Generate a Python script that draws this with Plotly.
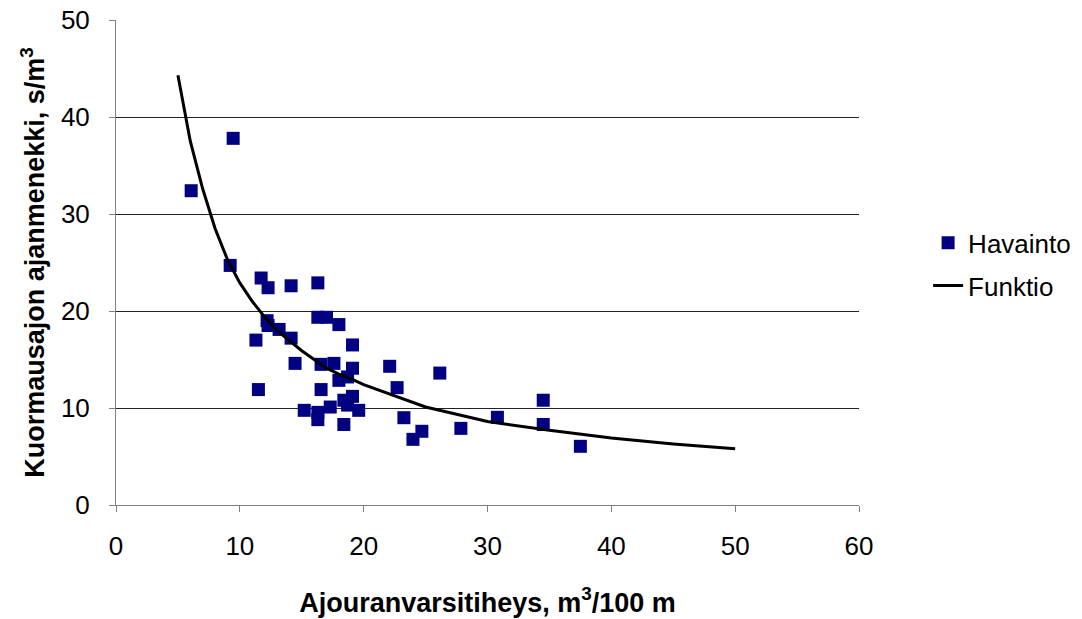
import plotly.graph_objects as go

# Observations (Havainto)
obs_x = [9.46, 6.07, 9.22, 11.72, 12.28, 14.14, 16.3, 12.2, 12.28, 13.17, 14.14, 11.3,
         16.3, 17.0, 18.0, 19.1, 14.46, 16.56, 17.6, 19.1, 22.1, 26.15, 18.0, 18.7,
         22.7, 11.5, 16.56, 19.1, 18.4, 18.7, 15.2, 16.3, 17.3, 19.6, 16.3, 18.4,
         23.25, 24.7, 23.98, 27.85, 30.8, 34.5, 34.5, 37.5]
obs_y = [37.8, 32.4, 24.7, 23.4, 22.4, 22.6, 22.9, 19.0, 18.5, 18.1, 17.2, 17.0,
         19.35, 19.35, 18.6, 16.5, 14.6, 14.5, 14.6, 14.1, 14.3, 13.6, 12.85, 13.2,
         12.1, 11.9, 11.9, 11.2, 10.8, 10.3, 9.76, 9.55, 10.1, 9.76, 8.8, 8.3,
         9.0, 7.6, 6.77, 7.9, 9.04, 10.8, 8.3, 6.05]

# Fitted function (Funktio)
fun_x = [5, 6, 7, 8, 9, 10, 11, 12, 13, 14, 15, 16, 17, 18, 19, 20, 25, 30, 35, 40, 45, 50]
fun_y = [44.3, 37.5, 32.6, 28.5, 25.3, 22.9, 21.0, 19.4, 18.0, 16.9, 15.9, 15.0,
         14.1, 13.5, 13.0, 12.4, 10.1, 8.6, 7.7, 6.9, 6.3, 5.8]

x_ticks = [0, 10, 20, 30, 40, 50, 60]
y_ticks = [0, 10, 20, 30, 40, 50]

FONT = "Liberation Sans, Arial, sans-serif"

fig = go.Figure()
fig.add_trace(go.Scatter(
    x=obs_x, y=obs_y, mode="markers", name="Havainto", legendgroup="a",
    marker=dict(symbol="square", size=13, color="#000080", line=dict(width=0)),
))
fig.add_trace(go.Scatter(
    x=fun_x, y=fun_y, mode="lines", name="Funktio", legendgroup="b",
    line=dict(color="black", width=3),
))

fig.update_layout(
    width=1082, height=619,
    margin=dict(l=116, r=223, t=20, b=114, autoexpand=False),
    paper_bgcolor="white", plot_bgcolor="white",
    font=dict(family=FONT, size=26, color="black"),
    showlegend=True,
    legend=dict(x=1.093, y=0.589, xanchor="left", yanchor="top",
                font=dict(size=26), tracegroupgap=6, bgcolor="rgba(0,0,0,0)"),
    xaxis=dict(
        range=[0, 60], tickvals=x_ticks, ticktext=[str(v) for v in x_ticks],
        showgrid=False, zeroline=False,
        showline=True, linecolor="#808080", linewidth=1,
        ticks="outside", ticklen=6, tickcolor="#808080",
        tickfont=dict(size=26), ticklabelstandoff=12,
        title=dict(text="<b>Ajouranvarsitiheys, m<sup>3</sup>/100 m</b>",
                   font=dict(size=27), standoff=32),
    ),
    yaxis=dict(
        range=[0, 50], tickvals=y_ticks, ticktext=[str(v) for v in y_ticks],
        showgrid=True, gridcolor="#222222", gridwidth=1,
        zeroline=False,
        showline=True, linecolor="#808080", linewidth=1,
        ticks="outside", ticklen=6, tickcolor="#808080",
        tickfont=dict(size=26), ticklabelstandoff=14,
        title=dict(text="<b>Kuormausajon ajanmenekki, s/m<sup>3</sup></b>",
                   font=dict(size=27), standoff=8),
    ),
)

fig.write_html("out.html")
